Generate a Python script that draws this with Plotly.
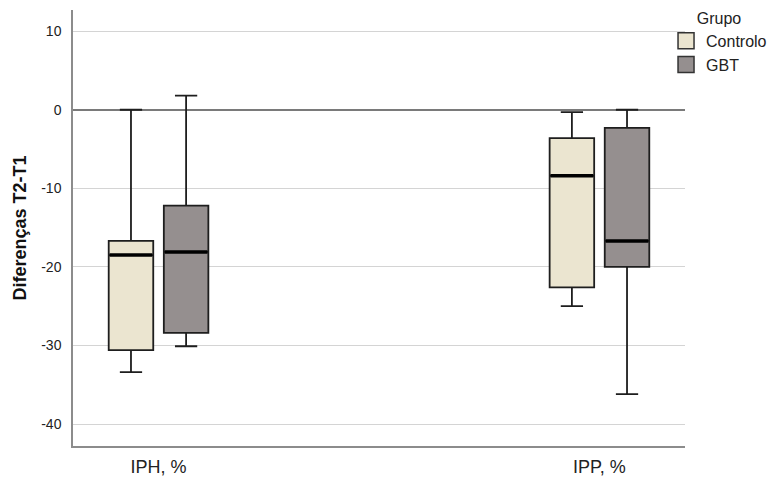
import plotly.graph_objects as go

categories = ["IPH, %", "IPP, %"]
groups = ["Controlo", "GBT"]
# five-number summaries per group, per category
controlo_low = [-33.4, -25.0]
controlo_q1 = [-30.6, -22.6]
controlo_med = [-18.5, -8.4]
controlo_q3 = [-16.7, -3.6]
controlo_high = [0.0, -0.3]

gbt_low = [-30.1, -36.2]
gbt_q1 = [-28.4, -20.0]
gbt_med = [-18.1, -16.7]
gbt_q3 = [-12.2, -2.3]
gbt_high = [1.8, 0.0]

y_ticks = [-40, -30, -20, -10, 0, 10]
y_tick_labels = ["-40", "-30", "-20", "-10", "0", "10"]

colors = {"Controlo": "#EBE5D0", "GBT": "#958F8F"}
offset = 0.0625
bw = 0.101

data = {
    "Controlo": (controlo_low, controlo_q1, controlo_med, controlo_q3, controlo_high),
    "GBT": (gbt_low, gbt_q1, gbt_med, gbt_q3, gbt_high),
}

fig = go.Figure()
for gi, g in enumerate(groups):
    low, q1, med, q3, high = data[g]
    xs = [i + (gi - 0.5) * 2 * offset for i in range(len(categories))]
    fig.add_trace(go.Box(
        x=xs, lowerfence=low, q1=q1, median=med, q3=q3, upperfence=high,
        name=g, width=bw, fillcolor=colors[g],
        line=dict(color="#1e1e1e", width=1.8), whiskerwidth=0.5,
        boxpoints=False, hoverinfo="skip", showlegend=False,
    ))
    # thicker median lines
    mx, my = [], []
    for x, m in zip(xs, med):
        mx += [x - bw / 2 + 0.002, x + bw / 2 - 0.002, None]
        my += [m, m, None]
    fig.add_trace(go.Scatter(x=mx, y=my, mode="lines",
                             line=dict(color="black", width=3.5),
                             showlegend=False, hoverinfo="skip"))
    # legend swatch
    fig.add_trace(go.Scatter(x=[None], y=[None], mode="markers", name=g,
                             marker=dict(symbol="square", size=16, color=colors[g],
                                         line=dict(color="#333", width=1.5)),
                             showlegend=True))

# page body adds an 8px offset, so the figure is 770x470
fig.update_layout(
    width=770, height=470,
    margin=dict(l=65, r=93, t=2, b=32, autoexpand=False),
    plot_bgcolor="white", paper_bgcolor="white",
    font=dict(family="Liberation Sans, Arial, sans-serif", color="#222"),
    legend=dict(
        title=dict(text="Grupo", font=dict(size=16), side="top center"),
        x=0.969, y=1.016, xanchor="left", yanchor="top",
        font=dict(size=16), tracegroupgap=0, itemwidth=30, itemsizing="trace",
        bgcolor="rgba(0,0,0,0)",
    ),
    showlegend=True,
)
fig.update_xaxes(
    range=[-0.194, 1.194], tickvals=list(range(len(categories))), ticktext=categories,
    showgrid=False, zeroline=False, showline=True, linecolor="#8c8c8c", linewidth=1.5,
    ticks="", tickfont=dict(size=18, color="#222"), ticklabelstandoff=4,
)
fig.update_yaxes(
    range=[-42.8, 12.7], tickvals=y_ticks, ticktext=y_tick_labels,
    showgrid=True, gridcolor="#d4d4d4", gridwidth=1.2,
    zeroline=True, zerolinecolor="#7a7a7a", zerolinewidth=1.5,
    showline=True, linecolor="#8c8c8c", linewidth=1.5,
    ticks="", tickfont=dict(size=14, color="#222"), ticklabelstandoff=7,
    title=dict(text="<b>Diferenças T2-T1</b>", font=dict(size=18, color="#111"), standoff=10),
)

fig.write_html("out.html")
